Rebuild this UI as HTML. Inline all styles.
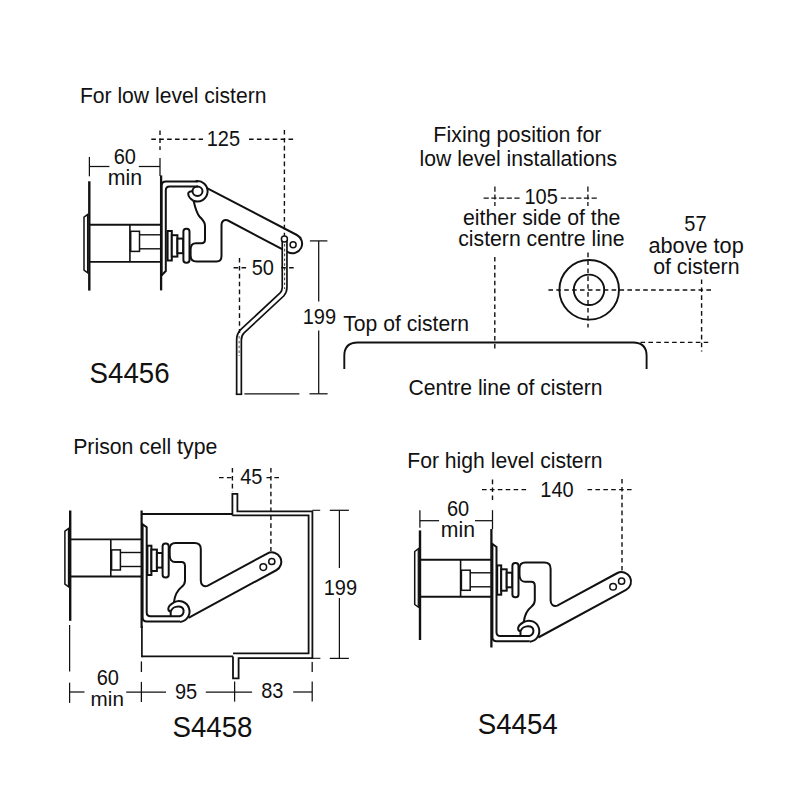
<!DOCTYPE html>
<html><head><meta charset="utf-8"><style>
html,body{margin:0;padding:0;background:#fff;}
svg{position:absolute;left:0;top:0;display:block;}
text{font-family:"Liberation Sans",sans-serif;fill:#111;}
</style></head><body>
<svg width="800" height="800" viewBox="0 0 800 800">
<g stroke="#111" fill="none" stroke-linecap="butt">
<line x1="89.3" y1="181.3" x2="89.3" y2="290.6" stroke-width="2.4"/>
<line x1="161.1" y1="175.4" x2="161.1" y2="290.4" stroke-width="2.3"/>
<g transform="matrix(1,0,0,-1,19.1,801.3)">
<path d="M69.4,527.8 L64.9,531.2 L64.9,584.2 L69.4,587.4" stroke-width="1.5" fill="none" stroke-linejoin="round"/>
<line x1="68.5" y1="529" x2="68.5" y2="586.4" stroke-width="1.3"/>
<line x1="70" y1="539.4" x2="141.4" y2="539.4" stroke-width="1.9"/>
<line x1="70" y1="576.5" x2="141.4" y2="576.5" stroke-width="1.9"/>
<line x1="110.8" y1="539.4" x2="110.8" y2="576.5" stroke-width="1.6"/>
<rect x="111.6" y="549.9" width="8.8" height="20.1" stroke-width="1.5" fill="#fff"/>
<line x1="120.4" y1="552.5" x2="141" y2="552.5" stroke-width="1.4"/>
<line x1="120.4" y1="566.5" x2="141" y2="566.5" stroke-width="1.4"/>
</g>
<g fill="#fff" stroke-width="2.0"><rect x="167.6" y="231" width="4.2" height="29.5"/><rect x="171.8" y="235.2" width="5.6" height="21.4"/><rect x="177.4" y="238.6" width="5.8" height="14.6"/><rect x="183.4" y="228.8" width="6.1" height="34" rx="2.8"/></g>
<path d="M161.6,276 L161.6,186 Q161.6,181.6 166,181.6 L198,181.6" fill="none" stroke-width="2.0"/>
<path d="M161.6,275.2 L165.8,271 L165.8,190.3 Q165.8,186.6 169.5,186.6 L198,186.6" fill="none" stroke-width="2.0"/>
<ellipse cx="197.5" cy="191.3" rx="5" ry="4.7" fill="none" stroke-width="2.0"/>
<path d="M195.63,181.25 A10.2,10.2 0 1 1 193.58,200.76" fill="none" stroke-width="2.0"/>
<path d="M193.58,200.76 C191,199.3 188.4,197 188.2,194 C188.1,192 190,191.2 192.5,191.4" fill="none" stroke-width="2.0"/>
<path d="M193.58,200.76 C195,207 196.5,213 199.5,216.5 C202.5,219.8 205,221.5 205,226 L205,239.5 C205,242 203.8,243.2 201.5,243.2 L196,243.2 C192.5,243.2 190.6,245.5 190.6,249.5 L190.6,255.5 C190.6,259.5 192.5,261.5 196.5,261.5 L216.5,261.5 C219.6,261.5 221.5,259.6 221.5,256 L221.5,225 C221.5,221 224,219.5 227.5,220.3 L287.87,252.18 A9.7,9.7 0 1 0 296.89,235 L206.5,187.8" fill="none" stroke-width="2.0"/>
<circle cx="293.1" cy="244.7" r="3" fill="none" stroke-width="1.5"/>
<path d="M284.6,240 L284.6,287.5 C284.6,290.5 283.8,292.3 282,294.4 L242.5,331.2 C240.2,333.4 239,336 239,340 L239,394.2" fill="none" stroke-width="6.4"/>
<path d="M284.6,240 L284.6,287.5 C284.6,290.5 283.8,292.3 282,294.4 L242.5,331.2 C240.2,333.4 239,336 239,340 L239,394.2" fill="none" stroke="#fff" stroke-width="3.0"/>
<line x1="235.8" y1="394.3" x2="242.2" y2="394.3" stroke-width="1.6"/>
<line x1="284.6" y1="244" x2="284.6" y2="289" stroke="#444" stroke-width="1.1" stroke-dasharray="2.6 2.2"/>
<line x1="239.1" y1="336" x2="239.1" y2="356" stroke="#555" stroke-width="1" stroke-dasharray="2.6 2.2"/>
<circle cx="284.4" cy="239.1" r="3" fill="#fff" stroke-width="1.5"/>
<line x1="89.4" y1="156.9" x2="89.4" y2="176.3" stroke-width="1.25"/>
<line x1="89.4" y1="166.5" x2="109.4" y2="166.5" stroke-width="1.25"/>
<line x1="138.8" y1="166.5" x2="160" y2="166.5" stroke-width="1.25"/>
<line x1="160" y1="158" x2="160" y2="176" stroke-width="1.25"/>
<line x1="160" y1="130.5" x2="160" y2="150" stroke-width="1.4" stroke-dasharray="4.6 3.3"/>
<line x1="151.3" y1="139.2" x2="203" y2="139.2" stroke-width="1.4" stroke-dasharray="4.6 3.3"/>
<line x1="249" y1="139.2" x2="295.5" y2="139.2" stroke-width="1.4" stroke-dasharray="4.6 3.3"/>
<line x1="284.4" y1="130" x2="284.4" y2="236" stroke-width="1.4" stroke-dasharray="4.6 3.3"/>
<line x1="239.5" y1="258" x2="239.5" y2="333" stroke-width="1.4" stroke-dasharray="4.6 3.3"/>
<line x1="233.6" y1="267.8" x2="246.2" y2="267.8" stroke-width="1.4" stroke-dasharray="4.6 3.3"/>
<line x1="281.2" y1="267.8" x2="293.8" y2="267.8" stroke-width="1.4" stroke-dasharray="4.6 3.3"/>
<line x1="318.7" y1="240.9" x2="318.7" y2="301.4" stroke-width="1.25"/>
<line x1="318.7" y1="330.5" x2="318.7" y2="393.8" stroke-width="1.25"/>
<line x1="309.9" y1="240.9" x2="327.4" y2="240.9" stroke-width="1.25"/>
<line x1="309.5" y1="393.8" x2="327.6" y2="393.8" stroke-width="1.25"/>
<line x1="244.4" y1="393.8" x2="299.4" y2="393.8" stroke-width="1.25"/>
<line x1="483.6" y1="198.1" x2="521.4" y2="198.1" stroke-width="1.25" stroke-dasharray="5.2 2.5"/>
<line x1="560.8" y1="198.1" x2="598.4" y2="198.1" stroke-width="1.25" stroke-dasharray="5.2 2.5"/>
<line x1="494.9" y1="186.4" x2="494.9" y2="206" stroke-width="1.3" stroke-dasharray="5.4 2.6 5 2.6"/>
<line x1="587.9" y1="186.4" x2="587.9" y2="206" stroke-width="1.3" stroke-dasharray="5.4 2.6 5 2.6"/>
<line x1="494.8" y1="257" x2="494.8" y2="349" stroke-width="1.4" stroke-dasharray="4.6 3.3"/>
<line x1="588" y1="252.6" x2="588" y2="327.5" stroke-width="1.4" stroke-dasharray="4.6 3.3"/>
<line x1="548.4" y1="290" x2="712.5" y2="290" stroke-width="1.4" stroke-dasharray="4.6 3.3"/>
<line x1="701.6" y1="279.5" x2="701.6" y2="351.5" stroke-width="1.4" stroke-dasharray="4.6 3.3"/>
<line x1="640.5" y1="342.4" x2="711" y2="342.4" stroke-width="1.4" stroke-dasharray="4.6 3.3"/>
<circle cx="589.2" cy="289.8" r="29.8" fill="none" stroke-width="1.9"/>
<circle cx="589" cy="289.8" r="15.2" fill="none" stroke-width="1.9"/>
<path d="M344.3,369 L344.3,356 Q344.3,342.5 357.8,342.5 L633,342.5 Q646.6,342.5 646.6,356 L646.6,369" fill="none" stroke-width="1.9"/>
<line x1="70.2" y1="510.5" x2="70.2" y2="620.8" stroke-width="2.4"/>
<line x1="69.6" y1="625" x2="69.6" y2="671.5" stroke-width="1.25"/>
<line x1="141.6" y1="510.5" x2="141.6" y2="628" stroke-width="2.2"/>
<line x1="141.9" y1="626" x2="141.9" y2="657.2" stroke-width="1.7"/>
<g transform="translate(0,0)">
<path d="M69.4,527.8 L64.9,531.2 L64.9,584.2 L69.4,587.4" stroke-width="1.5" fill="none" stroke-linejoin="round"/>
<line x1="68.5" y1="529" x2="68.5" y2="586.4" stroke-width="1.3"/>
<line x1="70" y1="539.4" x2="141.4" y2="539.4" stroke-width="1.9"/>
<line x1="70" y1="576.5" x2="141.4" y2="576.5" stroke-width="1.9"/>
<line x1="110.8" y1="539.4" x2="110.8" y2="576.5" stroke-width="1.6"/>
<rect x="111.6" y="549.9" width="8.8" height="20.1" stroke-width="1.5" fill="#fff"/>
<line x1="120.4" y1="552.5" x2="141" y2="552.5" stroke-width="1.4"/>
<line x1="120.4" y1="566.5" x2="141" y2="566.5" stroke-width="1.4"/>
</g>
<g transform="translate(0,0)" fill="#fff" stroke-width="2.0">
<rect x="147.4" y="545.7" width="4" height="29.3"/>
<rect x="151.4" y="549.6" width="5.5" height="21.4"/>
<rect x="156.9" y="553" width="5.6" height="14.6"/>
<rect x="162.6" y="543.4" width="6.1" height="34.1" rx="2.8"/>
</g>
<g transform="translate(0,0)" fill="none" stroke-width="2.0">
<path d="M142.6,524 L142.6,617.3 Q142.6,621.6 146.9,621.6 L180,621.6"/>
<path d="M141.6,523.6 L146.7,527.2 L146.7,612.5 Q146.7,616.3 150.5,616.3 L179.5,616.3 C182.3,615.6 183.7,613.2 183.6,610.7 C183.3,608 181,606.5 178.3,606.5 C175,606.5 171.6,608.5 170.7,611.6 L170.7,616"/>
<path d="M174,602.3 C171.2,603.8 168.3,606.3 168.3,608.8 C168.3,610.6 169.4,611.6 171,611.6"/>
<path d="M173.91,602.32 A10.5,10.5 0 1 1 180.1,621.94"/>
<path d="M173.91,602.32 C174.6,597 177,590.5 181.6,587 C184,585.2 185,583.5 185,580.5 L185,566.2 C185,563.5 183.8,562.1 181.5,562.1 L175,562.1 C171.6,562.1 169.7,559 169.7,555 L169.7,549 C169.7,545.2 171.9,542.9 175.6,542.9 L194.5,542.9 C198.5,542.9 200.8,545 200.8,549 L200.8,580.5 C200.8,584.8 203.5,587 207.5,585.9 L267.17,553.55 A9.5,9.5 0 1 1 276.23,570.25 L188.5,617.8"/>
<circle cx="271.8" cy="561.5" r="3.1" stroke-width="1.5"/>
<circle cx="263.3" cy="567.1" r="3.3" stroke-width="1.5"/>
</g>
<line x1="141.4" y1="514" x2="232.4" y2="514" stroke-width="1.8"/>
<path d="M232.4,515.4 L232.4,493.9 L237.4,493.9 L237.4,511.3 L312.4,511.3 L312.4,658.1 L238.6,658.1 L238.6,678.4 L233,678.4 L233,656.4" fill="none" stroke-width="1.8"/>
<path d="M232.4,515.4 L308.6,515.4 L308.6,653.4 L233,653.4" fill="none" stroke-width="1.8"/>
<line x1="141.4" y1="656.3" x2="233" y2="656.3" stroke-width="1.8"/>
<line x1="219" y1="477.6" x2="232" y2="477.6" stroke-width="1.4" stroke-dasharray="4.6 3.3"/>
<line x1="266.5" y1="477.6" x2="282" y2="477.6" stroke-width="1.4" stroke-dasharray="4.6 3.3"/>
<line x1="232.4" y1="468" x2="232.4" y2="492" stroke-width="1.4" stroke-dasharray="4.6 3.3"/>
<line x1="270.9" y1="468" x2="270.9" y2="551" stroke-width="1.4" stroke-dasharray="4.6 3.3"/>
<line x1="312.4" y1="510.3" x2="320.2" y2="510.3" stroke-width="1.1"/>
<line x1="312.4" y1="658.3" x2="320.4" y2="658.3" stroke-width="1.1"/>
<line x1="329.8" y1="510.3" x2="348.9" y2="510.3" stroke-width="1.25"/>
<line x1="329.8" y1="658.4" x2="348.9" y2="658.4" stroke-width="1.25"/>
<line x1="339.4" y1="510.3" x2="339.4" y2="568" stroke-width="1.25"/>
<line x1="339.4" y1="598" x2="339.4" y2="658.4" stroke-width="1.25"/>
<line x1="69.6" y1="682.7" x2="69.6" y2="702.9" stroke-width="1.25"/>
<line x1="69.6" y1="692" x2="84.5" y2="692" stroke-width="1.25"/>
<line x1="126.2" y1="692" x2="166" y2="692" stroke-width="1.25"/>
<line x1="141.4" y1="681.9" x2="141.4" y2="702" stroke-width="1.25"/>
<line x1="141.4" y1="661.4" x2="141.4" y2="672" stroke-width="1.3"/>
<line x1="205.8" y1="692" x2="252.1" y2="692" stroke-width="1.25"/>
<line x1="234.6" y1="681.5" x2="234.6" y2="701.6" stroke-width="1.25"/>
<line x1="293.2" y1="692" x2="312.2" y2="692" stroke-width="1.25"/>
<line x1="312.2" y1="681.5" x2="312.2" y2="701.6" stroke-width="1.25"/>
<line x1="312.2" y1="662" x2="312.2" y2="672" stroke-width="1.3"/>
<line x1="420" y1="530.4" x2="420" y2="640" stroke-width="2.4"/>
<line x1="491.4" y1="529" x2="491.4" y2="647.5" stroke-width="2.3"/>
<g transform="translate(349.8,20.3)">
<path d="M69.4,527.8 L64.9,531.2 L64.9,584.2 L69.4,587.4" stroke-width="1.5" fill="none" stroke-linejoin="round"/>
<line x1="68.5" y1="529" x2="68.5" y2="586.4" stroke-width="1.3"/>
<line x1="70" y1="539.4" x2="141.4" y2="539.4" stroke-width="1.9"/>
<line x1="70" y1="576.5" x2="141.4" y2="576.5" stroke-width="1.9"/>
<line x1="110.8" y1="539.4" x2="110.8" y2="576.5" stroke-width="1.6"/>
<rect x="111.6" y="549.9" width="8.8" height="20.1" stroke-width="1.5" fill="#fff"/>
<line x1="120.4" y1="552.5" x2="141" y2="552.5" stroke-width="1.4"/>
<line x1="120.4" y1="566.5" x2="141" y2="566.5" stroke-width="1.4"/>
</g>
<g transform="translate(349.8,19.7)" fill="#fff" stroke-width="2.0">
<rect x="147.4" y="545.7" width="4" height="29.3"/>
<rect x="151.4" y="549.6" width="5.5" height="21.4"/>
<rect x="156.9" y="553" width="5.6" height="14.6"/>
<rect x="162.6" y="543.4" width="6.1" height="34.1" rx="2.8"/>
</g>
<g transform="translate(349.8,19.7)" fill="none" stroke-width="2.0">
<path d="M142.6,524 L142.6,617.3 Q142.6,621.6 146.9,621.6 L180,621.6"/>
<path d="M141.6,523.6 L146.7,527.2 L146.7,612.5 Q146.7,616.3 150.5,616.3 L179.5,616.3 C182.3,615.6 183.7,613.2 183.6,610.7 C183.3,608 181,606.5 178.3,606.5 C175,606.5 171.6,608.5 170.7,611.6 L170.7,616"/>
<path d="M174,602.3 C171.2,603.8 168.3,606.3 168.3,608.8 C168.3,610.6 169.4,611.6 171,611.6"/>
<path d="M173.91,602.32 A10.5,10.5 0 1 1 180.1,621.94"/>
<path d="M173.91,602.32 C174.6,597 177,590.5 181.6,587 C184,585.2 185,583.5 185,580.5 L185,566.2 C185,563.5 183.8,562.1 181.5,562.1 L175,562.1 C171.6,562.1 169.7,559 169.7,555 L169.7,549 C169.7,545.2 171.9,542.9 175.6,542.9 L194.5,542.9 C198.5,542.9 200.8,545 200.8,549 L200.8,580.5 C200.8,584.8 203.5,587 207.5,585.9 L267.17,553.55 A9.5,9.5 0 1 1 276.23,570.25 L188.5,617.8"/>
<circle cx="271.8" cy="561.5" r="3.1" stroke-width="1.5"/>
<circle cx="263.3" cy="567.1" r="3.3" stroke-width="1.5"/>
</g>
<line x1="419.9" y1="510.2" x2="419.9" y2="527.8" stroke-width="1.25"/>
<line x1="419.9" y1="520.7" x2="439.1" y2="520.7" stroke-width="1.25"/>
<line x1="475" y1="520.7" x2="492.5" y2="520.7" stroke-width="1.25"/>
<line x1="492.5" y1="510.2" x2="492.5" y2="529" stroke-width="1.25"/>
<line x1="492.5" y1="479.6" x2="492.5" y2="500.6" stroke-width="1.4" stroke-dasharray="4.6 3.3"/>
<line x1="482" y1="489.6" x2="528.5" y2="489.6" stroke-width="1.4" stroke-dasharray="4.6 3.3"/>
<line x1="587.5" y1="489.6" x2="632.2" y2="489.6" stroke-width="1.4" stroke-dasharray="4.6 3.3"/>
<line x1="622" y1="479" x2="622" y2="572" stroke-width="1.4" stroke-dasharray="4.6 3.3"/>
</g>
<g stroke="none">
<text transform="translate(79.89,103.1) scale(1.0060,1.0161)" font-size="21">For low level cistern</text>
<text transform="translate(433.36,141.6) scale(1.0222,1.0324)" font-size="21">Fixing position for</text>
<text transform="translate(419.59,166.4) scale(1.0072,1.0173)" font-size="21">low level installations</text>
<text transform="translate(462.99,225) scale(1.0147,1.0249)" font-size="21">either side of the</text>
<text transform="translate(458.19,246.1) scale(1.0110,1.0212)" font-size="21">cistern centre line</text>
<text transform="translate(648.47,253.3) scale(1.0333,1.0437)" font-size="21">above top</text>
<text transform="translate(653.19,273.7) scale(1.0133,1.0234)" font-size="21">of cistern</text>
<text transform="translate(343.3,331.05) scale(1.0065,1.0165)" font-size="21">Top of cistern</text>
<text transform="translate(408.49,395.3) scale(1.0079,1.0180)" font-size="21">Centre line of cistern</text>
<text transform="translate(73.17,454.1) scale(1.0129,1.0230)" font-size="21">Prison cell type</text>
<text transform="translate(407.23,468.05) scale(1.0079,1.0180)" font-size="21">For high level cistern</text>
<text transform="translate(107.73,185.2) scale(1.0156,1.0258)" font-size="21">min</text>
<text transform="translate(90.62,705.8) scale(0.9844,0.9942)" font-size="21">min</text>
<text transform="translate(440.74,537.3) scale(1.0109,1.0210)" font-size="21">min</text>
<text transform="translate(206.75,145.7) scale(1.0000,1.0800)" font-size="20">125</text>
<text transform="translate(113.67,163.5) scale(1.0000,1.0800)" font-size="20">60</text>
<text transform="translate(251.65,275.3) scale(1.0000,1.0800)" font-size="20">50</text>
<text transform="translate(302.7,324) scale(1.0000,1.0800)" font-size="20">199</text>
<text transform="translate(524.42,204.1) scale(1.0000,1.0800)" font-size="20">105</text>
<text transform="translate(684.3,231.1) scale(1.0000,1.0800)" font-size="20">57</text>
<text transform="translate(240.25,484.4) scale(1.0000,1.0800)" font-size="20">45</text>
<text transform="translate(323.75,594.9) scale(1.0000,1.0800)" font-size="20">199</text>
<text transform="translate(96.67,684.5) scale(1.0000,1.0800)" font-size="20">60</text>
<text transform="translate(175,698.6) scale(1.0000,1.0800)" font-size="20">95</text>
<text transform="translate(261.25,698.3) scale(1.0000,1.0800)" font-size="20">83</text>
<text transform="translate(540.33,497.1) scale(1.0000,1.0800)" font-size="20">140</text>
<text transform="translate(446.95,515.6) scale(1.0000,1.0800)" font-size="20">60</text>
<text transform="translate(89.58,382.7) scale(1.0250,1.0900)" font-size="27">S4456</text>
<text transform="translate(172.53,736.6) scale(1.0250,1.0900)" font-size="27">S4458</text>
<text transform="translate(477.77,733.9) scale(1.0250,1.0900)" font-size="27">S4454</text>
</g>
</svg>
</body></html>
